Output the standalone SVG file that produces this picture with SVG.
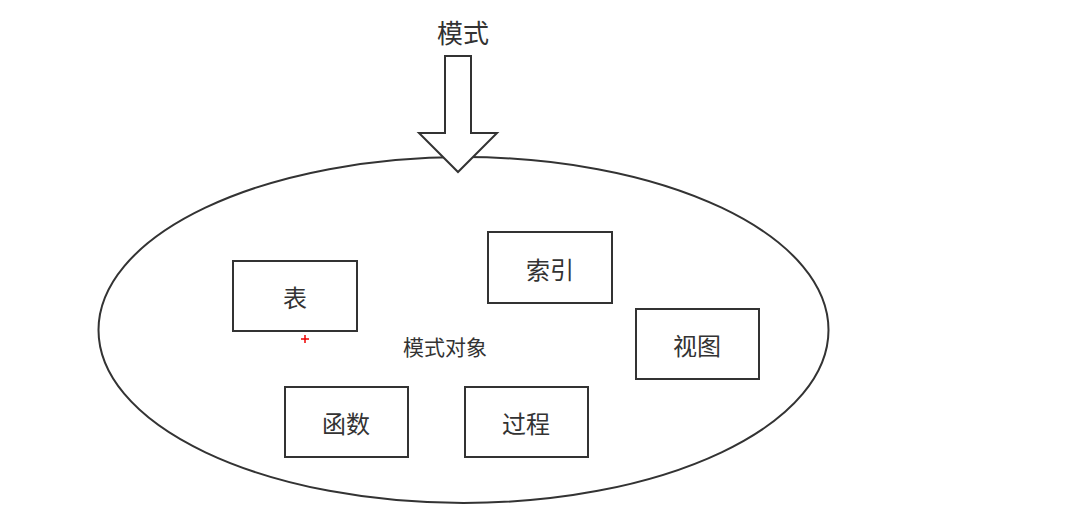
<svg xmlns="http://www.w3.org/2000/svg" width="1080" height="516" viewBox="0 0 1080 516">
<style>
.box{fill:#fff;stroke:#333;stroke-width:2}
.lbl{font-family:"Noto Sans CJK SC","Noto Sans",sans-serif;font-weight:400;fill:#333;text-anchor:middle;dominant-baseline:central}
</style>
<rect width="1080" height="516" fill="#fff"/>
<g id="schema-objects">
<ellipse cx="463.5" cy="330" rx="365" ry="173" fill="none" stroke="#333" stroke-width="2"/>
<text class="lbl" x="445" y="346" font-size="21">模式对象</text>
</g>
<g id="connectors">
<polygon points="445,56 471,56 471,133 497,133 458,172 419,133 445,133" fill="#fff" stroke="#333" stroke-width="2"/>
</g>
<g id="schema">
<text class="lbl" x="463" y="31" font-size="26" font-weight="500">模式</text>
</g>
<g id="table">
<rect class="box" x="233" y="261" width="124" height="70"/>
<text class="lbl" x="295" y="296" font-size="24">表</text>
</g>
<g id="index">
<rect class="box" x="488" y="232" width="124" height="71"/>
<text class="lbl" x="550" y="268" font-size="24">索引</text>
</g>
<g id="view">
<rect class="box" x="636" y="309" width="123" height="70"/>
<text class="lbl" x="697" y="344" font-size="24">视图</text>
</g>
<g id="function">
<rect class="box" x="285" y="387" width="123" height="70"/>
<text class="lbl" x="346" y="422" font-size="24">函数</text>
</g>
<g id="procedure">
<rect class="box" x="465" y="387" width="123" height="70"/>
<text class="lbl" x="526" y="422" font-size="24">过程</text>
</g>
<g id="cursor" stroke="#e00" stroke-width="1.5">
<line x1="301" y1="339" x2="309" y2="339"/>
<line x1="305" y1="335" x2="305" y2="343"/>
</g>
</svg>
